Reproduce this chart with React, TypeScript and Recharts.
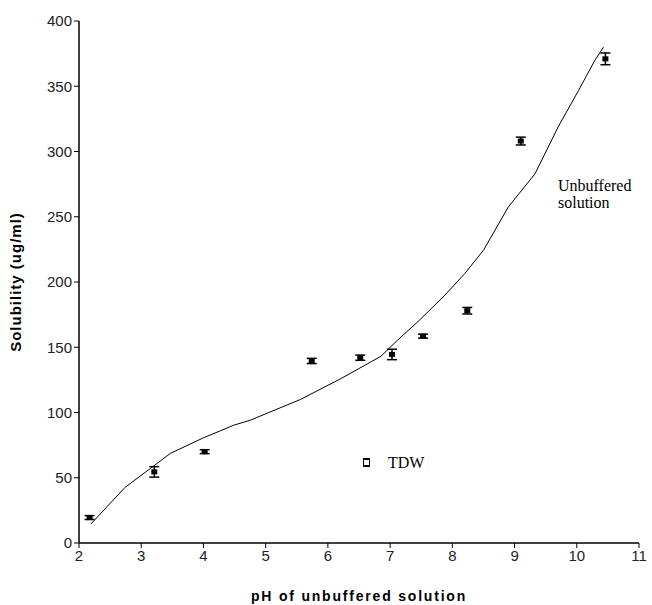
import React from 'react';
import { ComposedChart, Line, Scatter, XAxis, YAxis, ErrorBar, Label } from 'recharts';

const phValues = [2.17, 3.21, 4.02, 5.74, 6.52, 7.03, 7.53, 8.24, 9.1, 10.46];
const solubility = [19.5, 54.5, 70, 139.5, 142, 144.5, 158.5, 178, 308, 371];
const errors = [1.5, 4, 1.5, 2, 2, 4, 1.5, 2.5, 3, 4.5];

const curvePh = [2.19, 2.45, 2.74, 3.15, 3.47, 4.0, 4.49, 4.76, 5.0, 5.56, 6.21, 6.85, 7.12, 7.47, 7.88, 8.2, 8.5, 8.9, 9.33, 9.7, 10.03, 10.29, 10.43];
const curveSol = [14.5, 27.8, 42.6, 57.2, 68.7, 80.6, 90.3, 94.2, 99, 110, 126, 143, 155.4, 170.7, 189.9, 206.5, 224.3, 257.5, 283, 318.8, 346.9, 369.8, 380];

const xTicks = [2, 3, 4, 5, 6, 7, 8, 9, 10, 11];
const yTicks = [0, 50, 100, 150, 200, 250, 300, 350, 400];

const points = phValues.map((x, i) => ({ x, y: solubility[i], err: errors[i] }));
const curve = curvePh.map((x, i) => ({ x, y: curveSol[i] }));

const Marker = (props: any) => {
  const { cx, cy } = props;
  if (cx == null || cy == null) return null;
  return <rect x={cx - 3} y={cy - 2.5} width={6} height={5} fill="#000" />;
};

const tickStyle = { fontFamily: 'Liberation Sans, Arial, sans-serif', fontSize: 15, fill: '#222' };

export default function App() {
  return (
    <div style={{ position: 'absolute', left: 0, top: 0, background: '#fff' }}>
      <ComposedChart width={652} height={605} margin={{ top: 21, right: 13, bottom: 32, left: 29 }}>
        <XAxis
          type="number"
          dataKey="x"
          domain={[2, 11]}
          ticks={xTicks}
          tick={tickStyle}
          tickLine={{ stroke: '#000' }}
          axisLine={{ stroke: '#000', strokeWidth: 1.5 }}
          tickSize={5}
          height={30}
          allowDataOverflow
        >
          <Label
            value="pH of unbuffered solution"
            position="bottom"
            offset={18}
            style={{ fontFamily: 'Liberation Sans, Arial, sans-serif', fontWeight: 'bold', fontSize: 14, letterSpacing: 1.8, fill: '#000' }}
          />
        </XAxis>
        <YAxis
          type="number"
          dataKey="y"
          domain={[0, 400]}
          ticks={yTicks}
          tick={tickStyle}
          tickLine={{ stroke: '#000' }}
          axisLine={{ stroke: '#000', strokeWidth: 1.5 }}
          tickSize={5}
          width={50}
          allowDataOverflow
        >
          <Label
            value="Solubility (ug/ml)"
            angle={-90}
            position="insideLeft"
            offset={0}
            dx={-13}
            style={{ fontFamily: 'Liberation Sans, Arial, sans-serif', fontWeight: 'bold', fontSize: 15, letterSpacing: 1, fill: '#000', textAnchor: 'middle' }}
          />
        </YAxis>
        <Line
          data={curve}
          dataKey="y"
          type="linear"
          stroke="#000"
          strokeWidth={1}
          dot={false}
          activeDot={false}
          isAnimationActive={false}
        />
        <Scatter data={points} dataKey="y" shape={<Marker />} isAnimationActive={false}>
          <ErrorBar dataKey="err" direction="y" width={5} stroke="#000" strokeWidth={1.5} />
        </Scatter>
        <text x={558} y={191} style={{ fontFamily: 'Liberation Serif, Times New Roman, serif', fontSize: 16, fill: '#000' }}>Unbuffered</text>
        <text x={558} y={208} style={{ fontFamily: 'Liberation Serif, Times New Roman, serif', fontSize: 16, fill: '#000' }}>solution</text>
        <rect x={363.5} y={459.5} width={6} height={6} fill="none" stroke="#000" strokeWidth={1} />
        <line x1={363} y1={458.5} x2={370} y2={458.5} stroke="#000" strokeWidth={1} />
        <line x1={363} y1={466.5} x2={370} y2={466.5} stroke="#000" strokeWidth={1} />
        <text x={388} y={468} style={{ fontFamily: 'Liberation Serif, Times New Roman, serif', fontSize: 16, fill: '#000' }}>TDW</text>
      </ComposedChart>
    </div>
  );
}
